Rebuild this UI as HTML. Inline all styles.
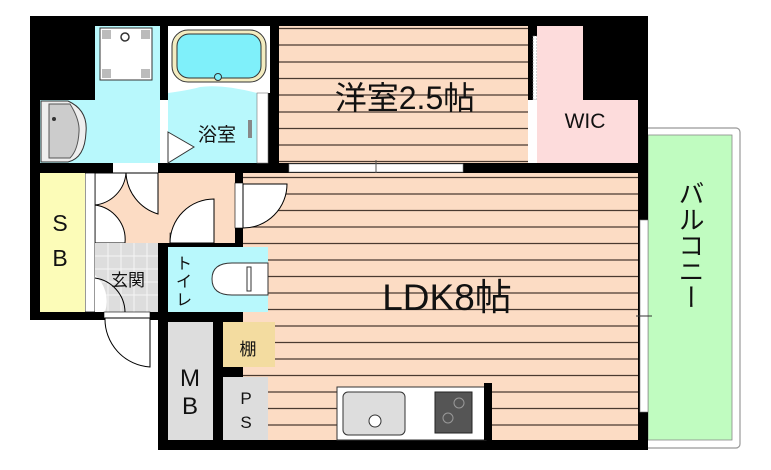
<!DOCTYPE html>
<html><head><meta charset="utf-8"><style>
html,body{margin:0;padding:0;background:#fff;}
svg{display:block}
text{font-family:"Liberation Sans","Noto Sans CJK JP",sans-serif;fill:#111}
</style></head><body>
<svg width="771" height="470" viewBox="0 0 771 470" xmlns="http://www.w3.org/2000/svg">
<!-- balcony -->
<rect x="640" y="128" width="100" height="320" rx="4" fill="#fff" stroke="#999" stroke-width="1.2"/>
<rect x="648" y="135" width="84" height="305" fill="#c0fcc0" stroke="#888" stroke-width="0.8"/>
<!-- outer black structure -->
<rect x="30" y="16" width="618" height="157" fill="#000"/>
<rect x="30" y="163" width="65" height="157" fill="#000"/>
<rect x="158" y="163" width="490" height="287" fill="#000"/>
<!-- wash -->
<rect x="95" y="26" width="65" height="137" fill="#b8f8fc"/>
<rect x="40" y="100" width="120" height="63" fill="#b8f8fc"/>
<rect x="100" y="28" width="52" height="52" fill="#fff" stroke="#333"/>
<rect x="102" y="30" width="9" height="9" fill="#bbb"/><rect x="141" y="30" width="9" height="9" fill="#bbb"/>
<rect x="102" y="69" width="9" height="9" fill="#bbb"/><rect x="141" y="69" width="9" height="9" fill="#bbb"/>
<circle cx="125" cy="37" r="4" fill="none" stroke="#333" stroke-width="1.5"/>
<path d="M41 101 H68 Q88 110 86 132 Q85 158 68 162 H41 Z" fill="#eee" stroke="#333"/>
<path d="M49 104 H70 Q80 120 79 132 Q78 150 70 158 H49 Z" fill="#ccc" stroke="#555"/>
<circle cx="54" cy="119" r="2" fill="#333"/>
<!-- bath -->
<rect x="168" y="26" width="102" height="67" fill="#fff"/>
<rect x="172" y="30" width="94" height="52" rx="16" fill="#f3ecc0" stroke="#333"/>
<rect x="177" y="34" width="84" height="44" rx="12" fill="#7ff0fa" stroke="#333"/>
<circle cx="218" cy="77" r="3.5" fill="#7ff0fa" stroke="#333"/>
<path d="M168 93 Q190 90 200 87 Q222 84 257 93 V163 H168 Z" fill="#b8f8fc"/>
<rect x="257" y="93" width="11" height="70" fill="#fff" stroke="#777" stroke-width="0.6"/>
<rect x="160" y="100" width="8" height="63" fill="#fff"/>
<path d="M168 132 L194 147 L168 163 Z" fill="#fff" stroke="#333"/>
<text x="198" y="141" font-size="19">浴室</text>
<rect x="248" y="120" width="4" height="18" fill="#888"/>
<!-- western room -->
<rect x="279" y="26" width="249" height="137" fill="#fcdcc4"/>
<g stroke="#4a3a30" stroke-width="1.2">
<line x1="279" x2="528" y1="28.5" y2="28.5"/><line x1="279" x2="528" y1="45" y2="45"/><line x1="279" x2="528" y1="62" y2="62"/><line x1="279" x2="528" y1="78.5" y2="78.5"/><line x1="279" x2="528" y1="95" y2="95"/><line x1="279" x2="528" y1="112" y2="112"/><line x1="279" x2="528" y1="128.5" y2="128.5"/><line x1="279" x2="528" y1="145" y2="145"/><line x1="279" x2="528" y1="161.5" y2="161.5"/>
</g>
<rect x="289" y="164" width="174" height="8" fill="#fff" stroke="#888" stroke-width="0.6"/>
<line x1="376" y1="160" x2="376" y2="176" stroke="#555"/>
<text x="405" y="109" font-size="32" text-anchor="middle">洋室2.5帖</text>
<!-- WIC -->
<rect x="533" y="36" width="4" height="64" fill="#fff" stroke="#777" stroke-width="0.6" stroke-dasharray="2 1"/>
<rect x="528" y="100" width="9" height="63" fill="#fff"/>
<path d="M537 26 H583 V100 H638 V163 H537 Z" fill="#fddcdc"/>
<text x="585" y="128" font-size="21" text-anchor="middle">WIC</text>
<!-- hallway -->
<rect x="95" y="173" width="140" height="70" fill="#fcdcc4"/>
<rect x="113" y="163" width="45" height="10" fill="#fff"/>
<path d="M126 173 A45 45 0 0 0 158 214 L158 173 Z" fill="#fff" stroke="#000" stroke-width="1"/>
<path d="M95 205 A35 35 0 0 0 126 173 L95 173 Z" fill="#fff" stroke="#000" stroke-width="1"/>
<path d="M95 205 A35 35 0 0 1 125 243 L95 243 Z" fill="#fff" stroke="#000" stroke-width="1"/>
<rect x="85" y="173" width="10" height="139" fill="#fff" stroke="#000" stroke-width="0.8"/>
<!-- SB -->
<rect x="40" y="173" width="45" height="139" fill="#fcfcb8"/>
<text x="60" y="231" font-size="23" text-anchor="middle">S</text>
<text x="60" y="266" font-size="23" text-anchor="middle">B</text>
<!-- genkan -->
<rect x="95" y="243" width="63" height="69" fill="#ddd"/>
<g stroke="#f5f5f5" stroke-width="1"><line x1="108" y1="243" x2="108" y2="312"/><line x1="121" y1="243" x2="121" y2="312"/><line x1="134" y1="243" x2="134" y2="312"/><line x1="147" y1="243" x2="147" y2="312"/><line x1="95" y1="256" x2="158" y2="256"/><line x1="95" y1="269" x2="158" y2="269"/><line x1="95" y1="282" x2="158" y2="282"/><line x1="95" y1="295" x2="158" y2="295"/></g>
<path d="M95 243 L95 312 L105 312 A35 35 0 0 0 95 275 Z" fill="#fff"/>
<path d="M95 278 A35 35 0 0 1 125 312" fill="none" stroke="#000"/>
<text x="128" y="286" font-size="17" text-anchor="middle">玄関</text>
<rect x="30" y="312" width="128" height="8" fill="#000"/>
<rect x="104" y="312" width="46" height="6" fill="#fff" stroke="#000" stroke-width="0.6"/>
<path d="M150 318 L150 367 A48 48 0 0 1 105 318 Z" fill="#fff" stroke="#000"/>
<!-- toilet door -->
<rect x="170" y="233" width="44" height="10" fill="#fff" stroke="#000" stroke-width="0.6"/>
<path d="M214 243 L170 243 A44 44 0 0 1 214 199 Z" fill="#fff" stroke="#000"/>
<!-- LDK -->
<rect x="243" y="173" width="395" height="267" fill="#fcdcc4"/>
<g stroke="#4a3a30" stroke-width="1.2">
<line x1="243" x2="638" y1="177.5" y2="177.5"/><line x1="243" x2="638" y1="194" y2="194"/><line x1="243" x2="638" y1="210.5" y2="210.5"/><line x1="243" x2="638" y1="227" y2="227"/><line x1="243" x2="638" y1="243.5" y2="243.5"/><line x1="243" x2="638" y1="260" y2="260"/><line x1="243" x2="638" y1="276.5" y2="276.5"/><line x1="243" x2="638" y1="293" y2="293"/><line x1="243" x2="638" y1="309.5" y2="309.5"/><line x1="243" x2="638" y1="326" y2="326"/><line x1="243" x2="638" y1="342.5" y2="342.5"/><line x1="243" x2="638" y1="359" y2="359"/><line x1="243" x2="638" y1="375.5" y2="375.5"/><line x1="243" x2="638" y1="392" y2="392"/><line x1="243" x2="638" y1="408.5" y2="408.5"/><line x1="243" x2="638" y1="425" y2="425"/>
</g>
<rect x="235" y="183" width="8" height="45" fill="#fff" stroke="#000" stroke-width="0.6"/>
<path d="M243 184 L287 184 A44 44 0 0 1 243 228 Z" fill="#fff" stroke="#000"/>
<rect x="640" y="220" width="8" height="192" fill="#fff" stroke="#777" stroke-width="0.6"/>
<line x1="636" y1="316" x2="652" y2="316" stroke="#333"/>
<text x="447" y="310" font-size="37" text-anchor="middle">LDK8帖</text>
<!-- toilet -->
<rect x="168" y="247" width="100" height="65" fill="#b8f8fc"/>
<path d="M268 263 H232 Q212 263 212 279 Q212 295 232 295 H268 Z" fill="#fff" stroke="#333"/>
<rect x="247" y="267" width="4" height="24" fill="#fff" stroke="#333"/>
<text x="184" y="269" font-size="16" text-anchor="middle">ト</text>
<text x="184" y="287" font-size="16" text-anchor="middle">イ</text>
<text x="184" y="305" font-size="16" text-anchor="middle">レ</text>
<!-- MB / shelf / PS -->
<rect x="168" y="322" width="45" height="118" fill="#ddd"/>
<rect x="223" y="322" width="52" height="45" fill="#f3dca0"/>
<rect x="223" y="377" width="45" height="63" fill="#ddd"/>
<text x="190" y="386" font-size="24" text-anchor="middle">M</text>
<text x="190" y="414" font-size="24" text-anchor="middle">B</text>
<text x="248" y="355" font-size="17" text-anchor="middle">棚</text>
<text x="246" y="404" font-size="17" text-anchor="middle">P</text>
<text x="246" y="428" font-size="17" text-anchor="middle">S</text>
<!-- kitchen -->
<rect x="337" y="387" width="149" height="53" fill="#fff" stroke="#333"/>
<rect x="343" y="392" width="62" height="43" rx="5" fill="#ddd" stroke="#333"/>
<circle cx="375" cy="421" r="6" fill="#fff" stroke="#333"/>
<rect x="435" y="392" width="37" height="41" fill="#555" stroke="#222"/>
<circle cx="459" cy="403" r="5" fill="none" stroke="#999"/>
<circle cx="448" cy="418" r="5" fill="none" stroke="#999"/>
<rect x="484" y="383" width="8" height="57" fill="#000"/>
<text x="690" y="245" font-size="26" text-anchor="middle" writing-mode="tb">バルコニー</text>
</svg>
</body></html>
